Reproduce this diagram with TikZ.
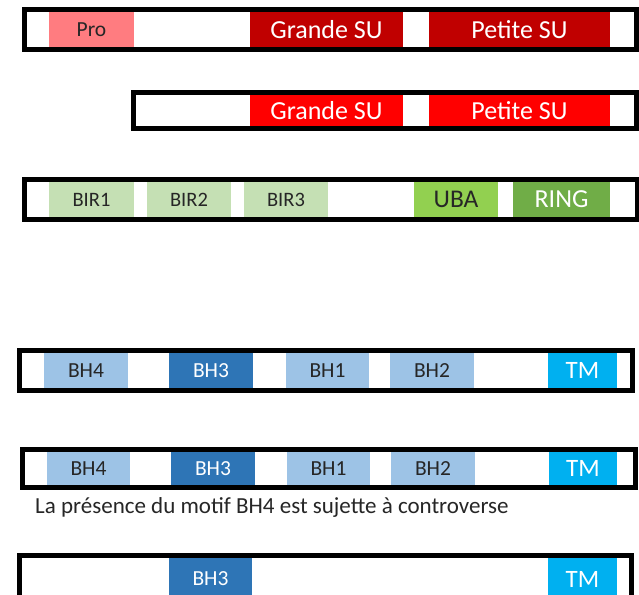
\documentclass[tikz,border=0pt]{standalone}
\usepackage{fontspec}
\setmainfont{Carlito}
\definecolor{proC}{HTML}{FF7C80}
\definecolor{darkred}{HTML}{C00000}
\definecolor{brightred}{HTML}{FF0000}
\definecolor{birC}{HTML}{C5E0B4}
\definecolor{ubaC}{HTML}{92D050}
\definecolor{ringC}{HTML}{70AD47}
\definecolor{bhC}{HTML}{9DC3E6}
\definecolor{bhdC}{HTML}{2E75B6}
\definecolor{tmC}{HTML}{00B0F0}
\definecolor{txtC}{HTML}{262626}
\newcommand{\seg}[7]{%
  \node[blk,#1,minimum width={(#4-#3)*1pt},minimum height={(#6-#5)*1pt}] (#2) at ({(#3+#4)/2},{(#5+#6)/2}) {#7};}
\begin{document}
\begin{tikzpicture}[x=1pt,y=-1pt,
  frame/.style={draw=black, line width=5pt},
  blk/.style={inner sep=0pt, outer sep=0pt, draw=none, text=txtC},
  fs/.style={font=\fontsize{#1}{#1}\selectfont},
  lighttxt/.style={text=white},
]
\clip (0,0) rectangle (639,594);
\fill[white] (0,0) rectangle (639,594);
% Row 1
\seg{fill=proC,fs=21.5}{pro}{49}{134}{12}{47}{Pro}
\seg{fill=darkred,lighttxt,fs=26}{gsu1}{250}{403}{12}{47}{Grande SU}
\seg{fill=darkred,lighttxt,fs=26}{psu1}{429}{610}{12}{47}{Petite SU}
\draw[frame] (24.5,9.5) rectangle (636.5,49.5);
% Row 2
\seg{fill=brightred,lighttxt,fs=26}{gsu2}{250}{403}{95}{126}{Grande SU}
\seg{fill=brightred,lighttxt,fs=26}{psu2}{429}{610}{95}{126}{Petite SU}
\draw[frame] (133.5,92.5) rectangle (636.5,128.5);
% Row 3
\seg{fill=birC,fs=20.5}{bir1}{49}{134}{182}{217}{BIR1}
\seg{fill=birC,fs=20.5}{bir2}{147}{231}{182}{217}{BIR2}
\seg{fill=birC,fs=20.5}{bir3}{244}{328}{182}{217}{BIR3}
\seg{fill=ubaC,fs=25.5}{uba}{414}{498}{182}{217}{UBA}
\seg{fill=ringC,lighttxt,fs=26}{ring}{513}{610}{182}{217}{RING}
\draw[frame] (24.5,179.5) rectangle (637,219.5);
% Row 4
\seg{fill=bhC,fs=21.5}{bhfourA}{44}{128}{353}{388}{BH4}
\seg{fill=bhdC,lighttxt,fs=21.5}{bhthreeA}{169}{253}{353}{388}{BH3}
\seg{fill=bhC,fs=21.5}{bhoneA}{286}{369}{353}{388}{BH1}
\seg{fill=bhC,fs=21.5}{bhtwoA}{390}{474}{353}{388}{BH2}
\seg{fill=tmC,lighttxt,fs=25}{tmA}{548}{617}{353}{388}{TM}
\draw[frame] (19.5,350.5) rectangle (632.5,390.5);
% Row 5
\seg{fill=bhC,fs=21.5}{bhfourB}{47}{130}{452}{485}{BH4}
\seg{fill=bhdC,lighttxt,fs=21.5}{bhthreeB}{171}{255}{452}{485}{BH3}
\seg{fill=bhC,fs=21.5}{bhoneB}{287}{370}{452}{485}{BH1}
\seg{fill=bhC,fs=21.5}{bhtwoB}{391}{475}{452}{485}{BH2}
\seg{fill=tmC,lighttxt,fs=25}{tmB}{549}{617}{452}{485}{TM}
\draw[frame] (22.5,449.5) rectangle (635.5,487.5);
\node[anchor=west, inner sep=0pt, text=txtC, fs=23] (note) at (35,507) {La présence du motif BH4 est sujette à controverse};
% Row 6
\seg{fill=bhdC,lighttxt,fs=21.5}{bhthreeC}{169}{252}{558}{600}{BH3}
\seg{fill=tmC,lighttxt,fs=25}{tmC}{548}{617}{558}{600}{TM}
\draw[frame] (19.5,555.5) rectangle (631.5,605);
\end{tikzpicture}
\end{document}
